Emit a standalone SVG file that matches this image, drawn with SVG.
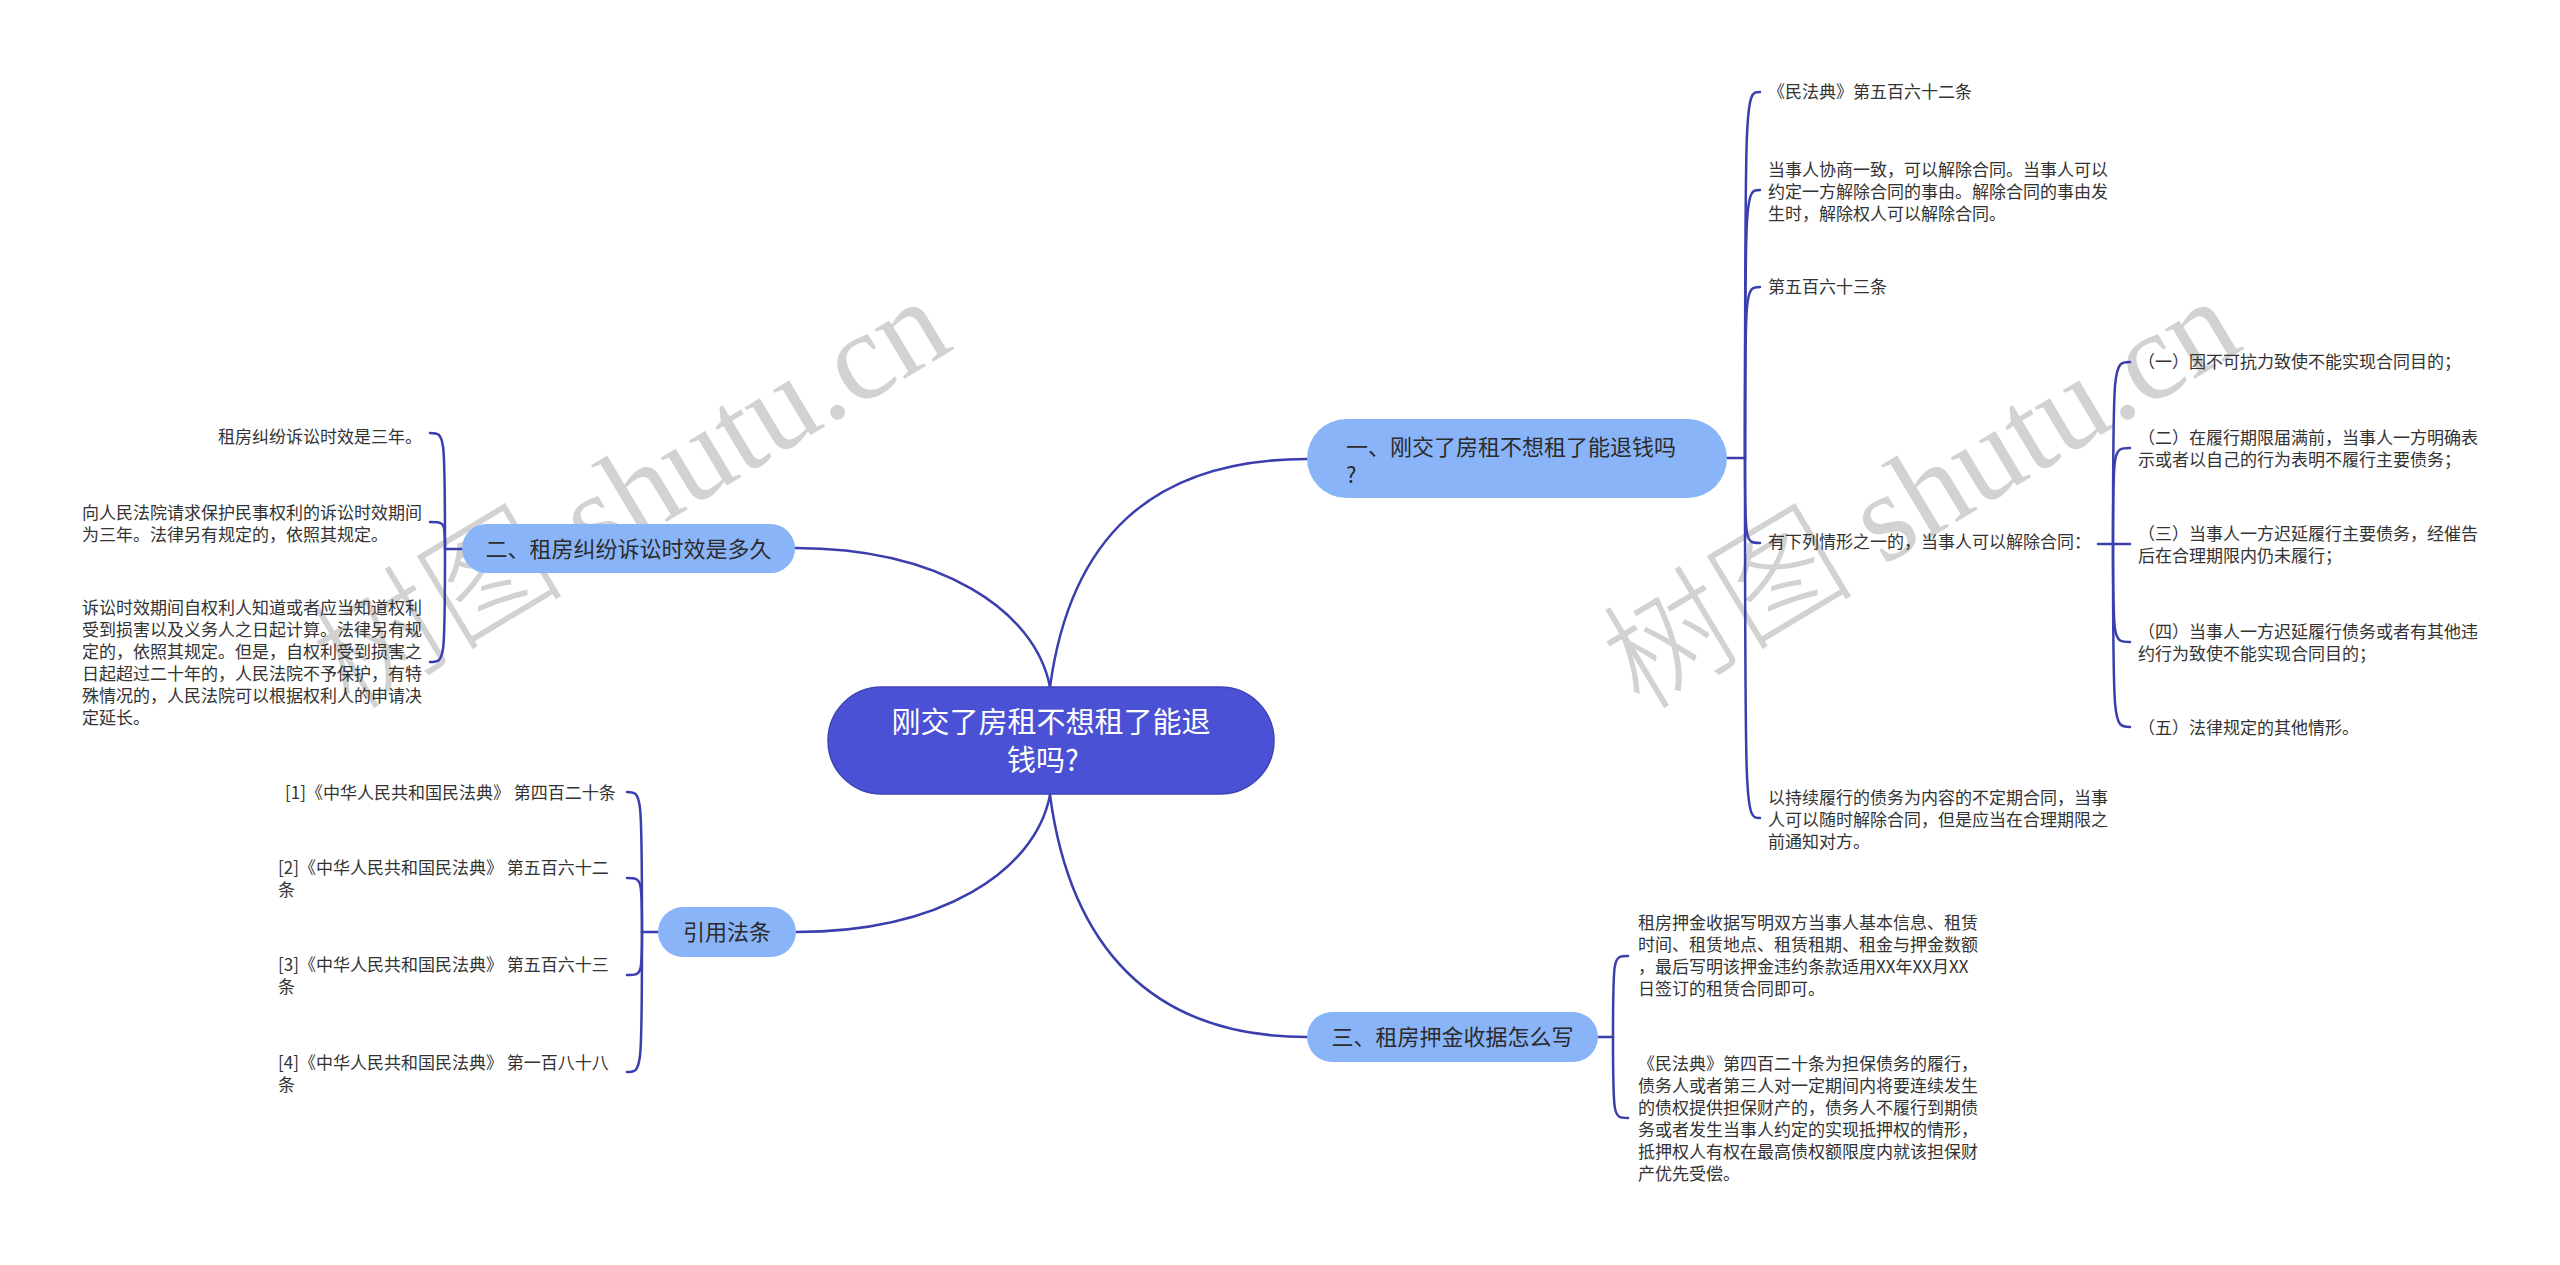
<svg xmlns="http://www.w3.org/2000/svg" width="2560" height="1265" viewBox="0 0 2560 1265">
<style>
.bg{fill:#ffffff}
.wm{font-family:"Liberation Serif","Noto Sans CJK SC",serif;font-size:126px;fill:#d2d2d2}
.wmc{font-family:"Noto Sans CJK SC",sans-serif;font-weight:300}
.edge{fill:none;stroke:#3b3fae;stroke-width:2.5;stroke-linecap:round}
.root rect{fill:#4a51d5;stroke:#3d43b8;stroke-width:1.5}
.root text{font-family:"Noto Sans CJK SC","Microsoft YaHei",sans-serif;font-size:29px;fill:#ffffff}
.main rect{fill:#8ab4f8}
.main text{font-family:"Noto Sans CJK SC","Microsoft YaHei",sans-serif;font-size:22px;fill:#2b2b2b}
.leaf text{font-family:"Noto Sans CJK SC","Microsoft YaHei",sans-serif;font-size:17px;fill:#333333}
</style>
<rect class="bg" x="0" y="0" width="2560" height="1265"/>
<g id="watermark">
<text class="wm" transform="translate(350,712) rotate(-31)"><tspan class="wmc">树图</tspan> shutu.cn</text>
<text class="wm" transform="translate(1640,712) rotate(-31)"><tspan class="wmc">树图</tspan> shutu.cn</text>
</g>
<g id="connectors">
<path class="edge" d="M1050,687 C1070,540 1150,459 1307,459"/>
<path class="edge" d="M1050,687 C1035,610 940,548 795,548"/>
<path class="edge" d="M1050,795 C1035,872 940,932 796,932"/>
<path class="edge" d="M1050,795 C1070,945 1150,1037 1307,1037"/>
<path class="edge" d="M1727,458 L1745,458"/>
<path class="edge" d="M1745,458 C1745,92 1745,92 1760,92"/>
<path class="edge" d="M1745,458 C1745,190 1745,190 1760,190"/>
<path class="edge" d="M1745,458 C1745,287 1745,287 1760,287"/>
<path class="edge" d="M1745,458 C1745,543 1745,543 1760,543"/>
<path class="edge" d="M1745,458 C1745,818 1745,818 1760,818"/>
<path class="edge" d="M2098,544 L2113,544"/>
<path class="edge" d="M2113,544 C2113,362 2113,362 2130,362"/>
<path class="edge" d="M2113,544 C2113,448 2113,448 2130,448"/>
<path class="edge" d="M2113,544 L2130,544"/>
<path class="edge" d="M2113,544 C2113,642 2113,642 2130,642"/>
<path class="edge" d="M2113,544 C2113,727 2113,727 2130,727"/>
<path class="edge" d="M462,549 L445,549"/>
<path class="edge" d="M445,549 C445,433 445,433 430,433"/>
<path class="edge" d="M445,549 C445,522 445,522 430,522"/>
<path class="edge" d="M445,549 C445,662 445,662 430,662"/>
<path class="edge" d="M658,932 L642,932"/>
<path class="edge" d="M642,932 C642,792 642,792 627,792"/>
<path class="edge" d="M642,932 C642,878 642,878 627,878"/>
<path class="edge" d="M642,932 C642,975 642,975 627,975"/>
<path class="edge" d="M642,932 C642,1072 642,1072 627,1072"/>
<path class="edge" d="M1598,1037 L1613,1037"/>
<path class="edge" d="M1613,1037 C1613,956 1613,956 1628,956"/>
<path class="edge" d="M1613,1037 C1613,1118 1613,1118 1628,1118"/>
</g>
<g id="root" class="root">
<rect x="828" y="687" width="446" height="107" rx="53.5"/>
<text x="1051" y="733" text-anchor="middle">刚交了房租不想租了能退</text>
<text x="1007" y="771">钱吗?</text>
</g>
<g id="node-1" class="main">
<rect x="1307" y="419" width="420" height="79" rx="39.5"/>
<text x="1346" y="455">一、刚交了房租不想租了能退钱吗</text>
<text x="1346" y="483">?</text>
</g>
<g id="node-2" class="main">
<rect x="462" y="524" width="333" height="49" rx="24.5"/>
<text x="628.5" y="557" text-anchor="middle">二、租房纠纷诉讼时效是多久</text>
</g>
<g id="node-ref" class="main">
<rect x="658" y="907" width="138" height="50" rx="25"/>
<text x="727" y="940" text-anchor="middle">引用法条</text>
</g>
<g id="node-3" class="main">
<rect x="1307" y="1012" width="291" height="50" rx="25"/>
<text x="1452.5" y="1045" text-anchor="middle">三、租房押金收据怎么写</text>
</g>
<g id="leaf-1-1" class="leaf"><text x="1768" y="98">《民法典》第五百六十二条</text></g>
<g id="leaf-1-2" class="leaf">
<text x="1768" y="176">当事人协商一致，可以解除合同。当事人可以</text>
<text x="1768" y="198">约定一方解除合同的事由。解除合同的事由发</text>
<text x="1768" y="220">生时，解除权人可以解除合同。</text>
</g>
<g id="leaf-1-3" class="leaf"><text x="1768" y="293">第五百六十三条</text></g>
<g id="leaf-1-4" class="leaf"><text x="1768" y="548">有下列情形之一的，当事人可以解除合同：</text></g>
<g id="leaf-1-5" class="leaf">
<text x="1768" y="804">以持续履行的债务为内容的不定期合同，当事</text>
<text x="1768" y="826">人可以随时解除合同，但是应当在合理期限之</text>
<text x="1768" y="848">前通知对方。</text>
</g>
<g id="leaf-1-4-1" class="leaf"><text x="2138" y="368">（一）因不可抗力致使不能实现合同目的；</text></g>
<g id="leaf-1-4-2" class="leaf">
<text x="2138" y="444">（二）在履行期限届满前，当事人一方明确表</text>
<text x="2138" y="466">示或者以自己的行为表明不履行主要债务；</text>
</g>
<g id="leaf-1-4-3" class="leaf">
<text x="2138" y="540">（三）当事人一方迟延履行主要债务，经催告</text>
<text x="2138" y="562">后在合理期限内仍未履行；</text>
</g>
<g id="leaf-1-4-4" class="leaf">
<text x="2138" y="638">（四）当事人一方迟延履行债务或者有其他违</text>
<text x="2138" y="660">约行为致使不能实现合同目的；</text>
</g>
<g id="leaf-1-4-5" class="leaf"><text x="2138" y="734">（五）法律规定的其他情形。</text></g>
<g id="leaf-3-1" class="leaf">
<text x="1638" y="929">租房押金收据写明双方当事人基本信息、租赁</text>
<text x="1638" y="951">时间、租赁地点、租赁租期、租金与押金数额</text>
<text x="1638" y="973">，最后写明该押金违约条款适用XX年XX月XX</text>
<text x="1638" y="995">日签订的租赁合同即可。</text>
</g>
<g id="leaf-3-2" class="leaf">
<text x="1638" y="1070">《民法典》第四百二十条为担保债务的履行，</text>
<text x="1638" y="1092">债务人或者第三人对一定期间内将要连续发生</text>
<text x="1638" y="1114">的债权提供担保财产的，债务人不履行到期债</text>
<text x="1638" y="1136">务或者发生当事人约定的实现抵押权的情形，</text>
<text x="1638" y="1158">抵押权人有权在最高债权额限度内就该担保财</text>
<text x="1638" y="1180">产优先受偿。</text>
</g>
<g id="leaf-2-1" class="leaf"><text x="422" y="443" text-anchor="end">租房纠纷诉讼时效是三年。</text></g>
<g id="leaf-2-2" class="leaf">
<text x="82" y="519">向人民法院请求保护民事权利的诉讼时效期间</text>
<text x="82" y="541">为三年。法律另有规定的，依照其规定。</text>
</g>
<g id="leaf-2-3" class="leaf">
<text x="82" y="614">诉讼时效期间自权利人知道或者应当知道权利</text>
<text x="82" y="636">受到损害以及义务人之日起计算。法律另有规</text>
<text x="82" y="658">定的，依照其规定。但是，自权利受到损害之</text>
<text x="82" y="680">日起超过二十年的，人民法院不予保护，有特</text>
<text x="82" y="702">殊情况的，人民法院可以根据权利人的申请决</text>
<text x="82" y="724">定延长。</text>
</g>
<g id="leaf-ref-1" class="leaf"><text x="285" y="799">[1]《中华人民共和国民法典》 第四百二十条</text></g>
<g id="leaf-ref-2" class="leaf">
<text x="278" y="874">[2]《中华人民共和国民法典》 第五百六十二</text>
<text x="278" y="896">条</text>
</g>
<g id="leaf-ref-3" class="leaf">
<text x="278" y="971">[3]《中华人民共和国民法典》 第五百六十三</text>
<text x="278" y="993">条</text>
</g>
<g id="leaf-ref-4" class="leaf">
<text x="278" y="1069">[4]《中华人民共和国民法典》 第一百八十八</text>
<text x="278" y="1091">条</text>
</g>
</svg>
